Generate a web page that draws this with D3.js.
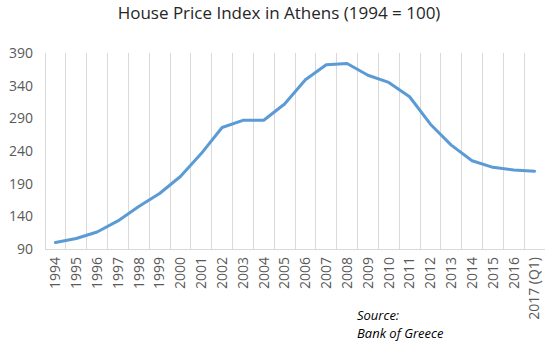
<!DOCTYPE html>
<html><head><meta charset="utf-8">
<script src="https://cdn.jsdelivr.net/npm/d3@7"></script>
<style>body{margin:0;background:#fff;} svg{display:block;}</style>
</head><body>
<svg id="c" width="555" height="350"></svg>
<script>
const categories = ["1994","1995","1996","1997","1998","1999","2000","2001","2002","2003","2004","2005","2006","2007","2008","2009","2010","2011","2012","2013","2014","2015","2016","2017 (Q1)"];
const values = [100,106,116,133,155,175,201,236,276,287,287,312,349,372,374,356,345,323,281,249,225,215,211,209];
const yTicks = [90,140,190,240,290,340,390];
const title = "House Price Index in Athens (1994 = 100)";
const sourceLines = ["Source:", "Bank of Greece"];

const svg = d3.select("#c");
const m = {left:45, right:10, top:53, bottom:101};
const W = 555, H = 350;
const x = d3.scaleBand().domain(categories).range([m.left, W - m.right]);
const y = d3.scaleLinear().domain([90, 390]).range([H - m.bottom, m.top]);
const font = "'Open Sans', sans-serif";

// vertical gridlines at category boundaries
svg.append("g").selectAll("line").data(categories).join("line")
  .attr("x1", d => x(d)).attr("x2", d => x(d))
  .attr("y1", y(390)).attr("y2", y(90))
  .attr("stroke", "#d9d9d9").attr("stroke-width", 1).attr("shape-rendering","crispEdges");

// bottom axis line
svg.append("line").attr("x1", m.left).attr("x2", W - m.right)
  .attr("y1", y(90)).attr("y2", y(90))
  .attr("stroke", "#d9d9d9").attr("stroke-width", 1).attr("shape-rendering","crispEdges");

// y axis labels
const ya = svg.append("g").attr("transform", `translate(${m.left},0)`)
  .call(d3.axisLeft(y).tickValues(yTicks).tickSize(0).tickPadding(12));
ya.select(".domain").remove();
ya.selectAll("text").attr("font-family", font).attr("font-size", 14).attr("fill", "#595959");

// x axis labels
const xa = svg.append("g").attr("transform", `translate(0,${y(90)})`)
  .call(d3.axisBottom(x).tickSize(0));
xa.select(".domain").remove();
xa.selectAll("text")
  .attr("font-family", font).attr("font-size", 14).attr("fill", "#595959")
  .attr("text-anchor", "end")
  .attr("dy", "0.35em")
  .attr("transform", "translate(0,8) rotate(-90)")
  .attr("x", 0).attr("y", 0);

// line
const line = d3.line().x((d,i) => x(categories[i]) + x.bandwidth()/2).y(d => y(d));
svg.append("path").datum(values).attr("d", line)
  .attr("fill", "none").attr("stroke", "#5b9bd5").attr("stroke-width", 3)
  .attr("stroke-linejoin", "round").attr("stroke-linecap", "round");

// title
svg.append("text").attr("x", 279).attr("y", 19).attr("text-anchor", "middle")
  .attr("font-family", font).attr("font-size", 17).attr("fill", "#262626").text(title);

// source
svg.append("g").selectAll("text").data(sourceLines).join("text")
  .attr("x", 357).attr("y", (d,i) => 320 + i*18)
  .attr("font-family", font).attr("font-size", 13).attr("font-style", "italic")
  .attr("fill", "#000").text(d => d);
</script>
</body></html>
